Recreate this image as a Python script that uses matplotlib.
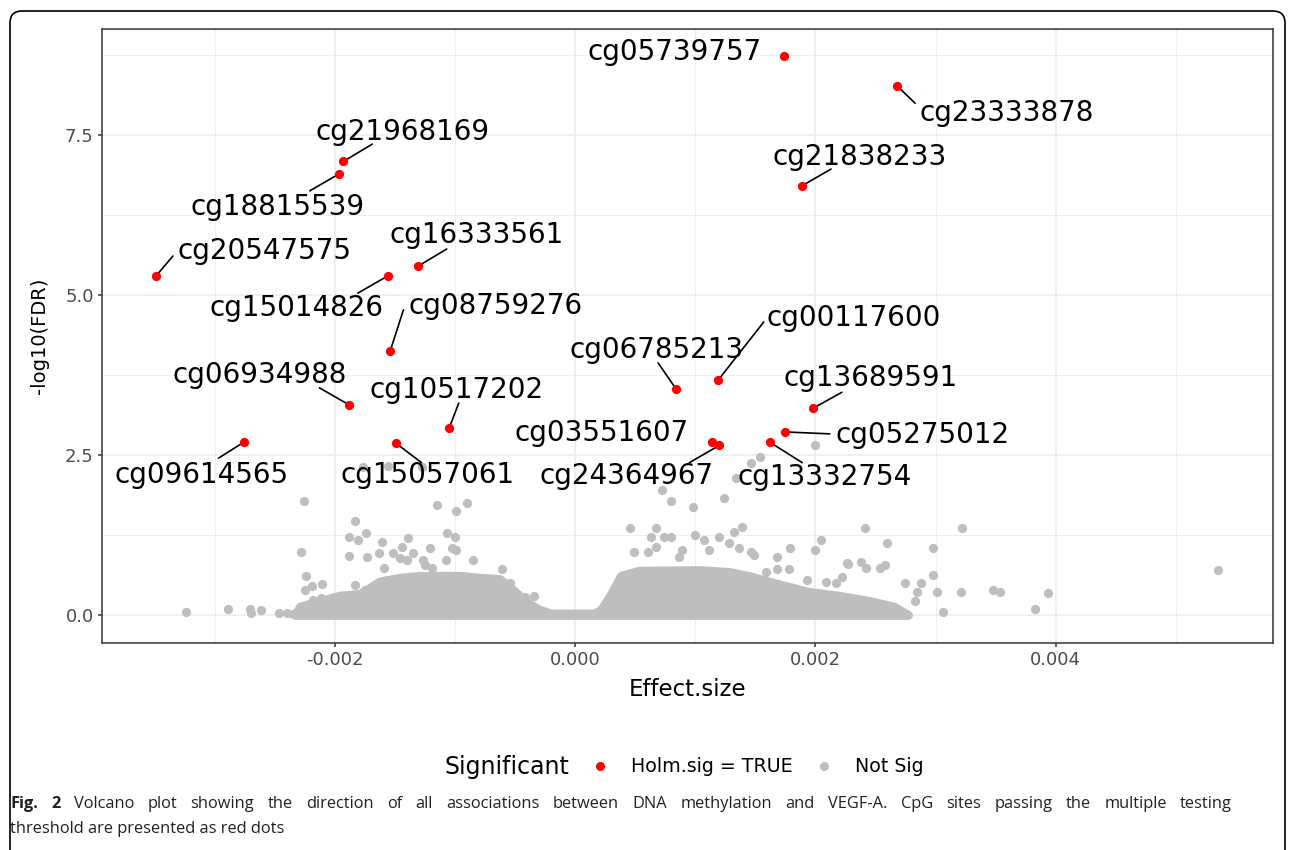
import matplotlib
matplotlib.use("Agg")
import matplotlib.pyplot as plt
from matplotlib.patches import FancyBboxPatch
from matplotlib.transforms import IdentityTransform
from matplotlib.lines import Line2D

plt.rcParams['font.family'] = ['DejaVu Sans']
plt.rcParams['axes.unicode_minus'] = False

# significant CpG sites (Holm.sig = TRUE)
sig_names = ['cg05739757', 'cg23333878', 'cg21838233', 'cg21968169', 'cg18815539',
             'cg20547575', 'cg16333561', 'cg15014826', 'cg08759276', 'cg00117600',
             'cg06785213', 'cg06934988', 'cg13689591', 'cg10517202', 'cg05275012',
             'cg03551607', 'cg24364967', 'cg13332754', 'cg09614565', 'cg15057061']
sig_effect = [0.00174, 0.00268, 0.00189, -0.00193, -0.00197,
              -0.00349, -0.00131, -0.00156, -0.00154, 0.00119,
              0.00084, -0.00188, 0.00198, -0.00105, 0.00175,
              0.00114, 0.00120, 0.00162, -0.00276, -0.00149]
sig_logfdr = [8.74, 8.27, 6.71, 7.09, 6.89,
              5.30, 5.45, 5.30, 4.13, 3.67,
              3.53, 3.28, 3.23, 2.92, 2.86,
              2.71, 2.65, 2.70, 2.70, 2.68]

# where ggrepel put each label, and where its segment meets the label
label_x = [0.00083, 0.00359, 0.00237, -0.00144, -0.00248,
           -0.00259, -0.00082, -0.00232, -0.00066, 0.00232,
           0.00068, -0.00263, 0.00246, -0.00099, 0.00289,
           0.00022, 0.00043, 0.00208, -0.00311, -0.00123]
label_y = [8.80, 7.84, 7.16, 7.55, 6.38,
           5.69, 5.94, 4.80, 4.83, 4.64,
           4.14, 3.75, 3.70, 3.52, 2.81,
           2.84, 2.17, 2.16, 2.19, 2.19]
seg_x = [None, 0.00283, 0.00213, -0.00169, -0.00221,
         -0.00335, -0.00107, -0.00181, -0.00143, 0.00157,
         0.00069, -0.00213, 0.00222, -0.00097, 0.00212,
         None, 0.00095, 0.00189, -0.00297, -0.00128]
seg_y = [None, 8.00, 6.97, 7.36, 6.63,
         5.61, 5.72, 5.03, 4.77, 4.58,
         3.94, 3.55, 3.48, 3.31, 2.83,
         None, 2.38, 2.38, 2.45, 2.38]

# dense mass of non-significant sites: upper envelope of the cloud
cloud_x = [-0.00233, -0.00229, -0.00212, -0.00196, -0.00179, -0.00163, -0.00146,
           -0.00129, -0.00096, -0.00080, -0.00063, -0.00053, -0.00042, -0.00030,
           -0.00020, 0.00016, 0.00022, 0.00030, 0.00038, 0.00053, 0.00103,
           0.00128, 0.00144, 0.00169, 0.00194, 0.00219, 0.00244, 0.00265, 0.00277]
cloud_top = [0.0, 0.13, 0.22, 0.30, 0.33, 0.52, 0.58,
             0.61, 0.61, 0.58, 0.56, 0.41, 0.22, 0.08,
             0.02, 0.02, 0.09, 0.33, 0.61, 0.69, 0.70,
             0.67, 0.61, 0.48, 0.36, 0.30, 0.22, 0.13, 0.0]

# scattered non-significant sites outside the dense mass
ns_effect = [-0.00324, -0.00289, -0.00270, -0.00262, -0.00271, -0.00247, -0.00240,
             -0.00235, -0.00229, -0.00226, -0.00228, -0.00224, -0.00225, -0.00219,
             -0.00211, -0.00218, -0.00212, -0.00183, -0.00188, -0.00181, -0.00174,
             -0.00188, -0.00173, -0.00163, -0.00161, -0.00183, -0.00175, -0.00115,
             -0.00099, -0.00090, -0.00107, -0.00100, -0.00103, -0.00099, -0.00085,
             -0.00061, -0.00054, -0.00042, -0.00034, -0.00144, -0.00139, -0.00135,
             -0.00121, -0.00177, -0.00156, -0.00128, -0.00152, -0.00146, -0.00140,
             -0.00127, -0.00125, -0.00119, -0.00108, -0.00159, -0.00157,
             0.00072, 0.00080, 0.00098, 0.00124, 0.00046, 0.00067, 0.00080, 0.00049,
             0.00063, 0.00074, 0.00100, 0.00107, 0.00120, 0.00132, 0.00139, 0.00136,
             0.00146, 0.00149, 0.00168, 0.00179, 0.00200, 0.00205, 0.00168, 0.00178,
             0.00159, 0.00193, 0.00209, 0.00217, 0.00226, 0.00222, 0.00089, 0.00086,
             0.00061, 0.00067, 0.00128, 0.00111, 0.00134, 0.00146, 0.00154, 0.00200,
             0.00241, 0.00260, 0.00298, 0.00322, 0.00227, 0.00238, 0.00242, 0.00254,
             0.00258, 0.00298, 0.00288, 0.00275, 0.00285, 0.00283, 0.00301, 0.00321,
             0.00348, 0.00354, 0.00306, 0.00383, 0.00394, 0.00535]
ns_logfdr = [0.05, 0.09, 0.03, 0.08, 0.09, 0.03, 0.03,
             0.02, 0.12, 1.78, 0.98, 0.61, 0.39, 0.45,
             0.48, 0.23, 0.27, 1.47, 1.22, 1.17, 1.28,
             0.92, 0.91, 0.97, 1.14, 0.47, 0.39, 1.72,
             1.63, 1.75, 1.28, 1.22, 1.05, 1.02, 0.86,
             0.72, 0.50, 0.28, 0.30, 1.06, 1.20, 0.97,
             1.05, 2.31, 2.33, 2.31, 0.97, 0.89, 0.86,
             0.86, 0.78, 0.73, 0.86, 0.73, 0.55,
             1.95, 1.78, 1.69, 1.83, 1.36, 1.36, 1.22, 0.98,
             1.22, 1.22, 1.25, 1.17, 1.22, 1.30, 1.38, 1.05,
             0.98, 0.94, 0.91, 1.05, 1.02, 1.17, 0.72, 0.72,
             0.67, 0.55, 0.52, 0.50, 0.81, 0.59, 1.02, 0.91,
             0.98, 1.06, 1.13, 1.02, 2.14, 2.38, 2.47, 2.66,
             1.36, 1.13, 1.05, 1.36, 0.80, 0.83, 0.73, 0.73,
             0.78, 0.63, 0.50, 0.50, 0.36, 0.22, 0.36, 0.36,
             0.39, 0.36, 0.05, 0.09, 0.34, 0.70]

x_ticks = [-0.002, 0.000, 0.002, 0.004]
y_ticks = [0.0, 2.5, 5.0, 7.5]

caption_1 = ('Volcano plot showing the direction of all associations between DNA '
             'methylation and VEGF-A. CpG sites passing the multiple testing')
caption_2 = 'threshold are presented as red dots'

RED = '#FF0000'
GREY = '#BEBEBE'
W, H = 1295, 850

fig = plt.figure(figsize=(12.95, 8.5), dpi=100)
ax = fig.add_axes([0.0788, 0.2435, 0.9042, 0.7224])

ax.fill_between(cloud_x, 0, cloud_top, color=GREY, linewidth=6.5,
                joinstyle='round', zorder=2)
ax.scatter(ns_effect, ns_logfdr, s=44, color=GREY, linewidths=0, zorder=2)
ax.scatter(sig_effect, sig_logfdr, s=44, color=RED, linewidths=0, zorder=4)

for name, x, y, lx, ly, sx, sy in zip(sig_names, sig_effect, sig_logfdr,
                                      label_x, label_y, seg_x, seg_y):
    ax.text(lx, ly, name, ha='center', va='center', fontsize=20, zorder=5)
    if sx is not None:
        ax.annotate('', xy=(x, y), xytext=(sx, sy),
                    arrowprops=dict(arrowstyle='-', color='black', lw=1.2,
                                    shrinkA=0, shrinkB=2))

ax.set_xlim(-0.00394, 0.00581)
ax.set_ylim(-0.44, 9.16)
ax.set_xticks(x_ticks)
ax.set_xticklabels(['%.3f' % v for v in x_ticks])
ax.set_yticks(y_ticks)
ax.set_yticklabels(['%.1f' % v for v in y_ticks])
ax.set_xticks([-0.003, -0.001, 0.001, 0.003, 0.005], minor=True)
ax.set_yticks([1.25, 3.75, 6.25, 8.75], minor=True)
ax.tick_params(which='major', length=3, width=1.1, color='#333333',
               labelsize=13, labelcolor='#4D4D4D', pad=3)
ax.tick_params(which='minor', length=0)
ax.grid(which='major', color='#EBEBEB', lw=1.1, zorder=0)
ax.grid(which='minor', color='#EBEBEB', lw=0.6, zorder=0)
ax.set_axisbelow(True)
for sp in ax.spines.values():
    sp.set_color('#333333')
    sp.set_linewidth(1.1)

ax.set_xlabel('Effect.size', fontsize=16.5)
ax.set_ylabel('-log10(FDR)', fontsize=14)
ax.xaxis.set_label_coords(0.5, -0.057)
ax.yaxis.set_label_coords(-0.045, 0.5)

# legend below the panel
fig.text(445 / W, 1 - 767 / H, 'Significant', fontsize=17, ha='left', va='center')
handles = [Line2D([], [], ls='', marker='o', ms=6.5, mec='none', mfc=RED),
           Line2D([], [], ls='', marker='o', ms=6.5, mec='none', mfc=GREY)]
fig.legend(handles, ['Holm.sig = TRUE', 'Not Sig'], ncol=2, frameon=False,
           loc='center left', bbox_to_anchor=(590 / W, 1 - 767 / H),
           fontsize=13.7, handlelength=1.0, handletextpad=1.15,
           columnspacing=1.15, borderpad=0, borderaxespad=0)

# caption, first line justified to the column width
cap_kw = dict(family=['Open Sans', 'DejaVu Sans'], fontsize=11.8, color='#231F20')
words = [('Fig.', 'bold'), ('2', 'bold')] + [(w, 'normal') for w in caption_1.split(' ')]
texts = [fig.text(0, 1 - 808 / H, w, fontweight=wt, ha='left', va='baseline', **cap_kw)
         for w, wt in words]
fig.canvas.draw()
renderer = fig.canvas.get_renderer()
widths = [t.get_window_extent(renderer).width for t in texts]
left, right = 10, 1232
gap = (right - left - sum(widths)) / (len(texts) - 1)
xpos = left
for t, w in zip(texts, widths):
    t.set_x(xpos / W)
    xpos += w + gap
fig.text(left / W, 1 - 833 / H, caption_2, ha='left', va='baseline', **cap_kw)

# rounded frame round the figure
frame = FancyBboxPatch((10, -30), 1275, H - 11 + 30,
                       boxstyle='round,pad=0,rounding_size=12',
                       transform=IdentityTransform(), fill=False,
                       edgecolor='black', linewidth=1.2)
fig.patches.append(frame)

fig.savefig('out.png', dpi=100)
